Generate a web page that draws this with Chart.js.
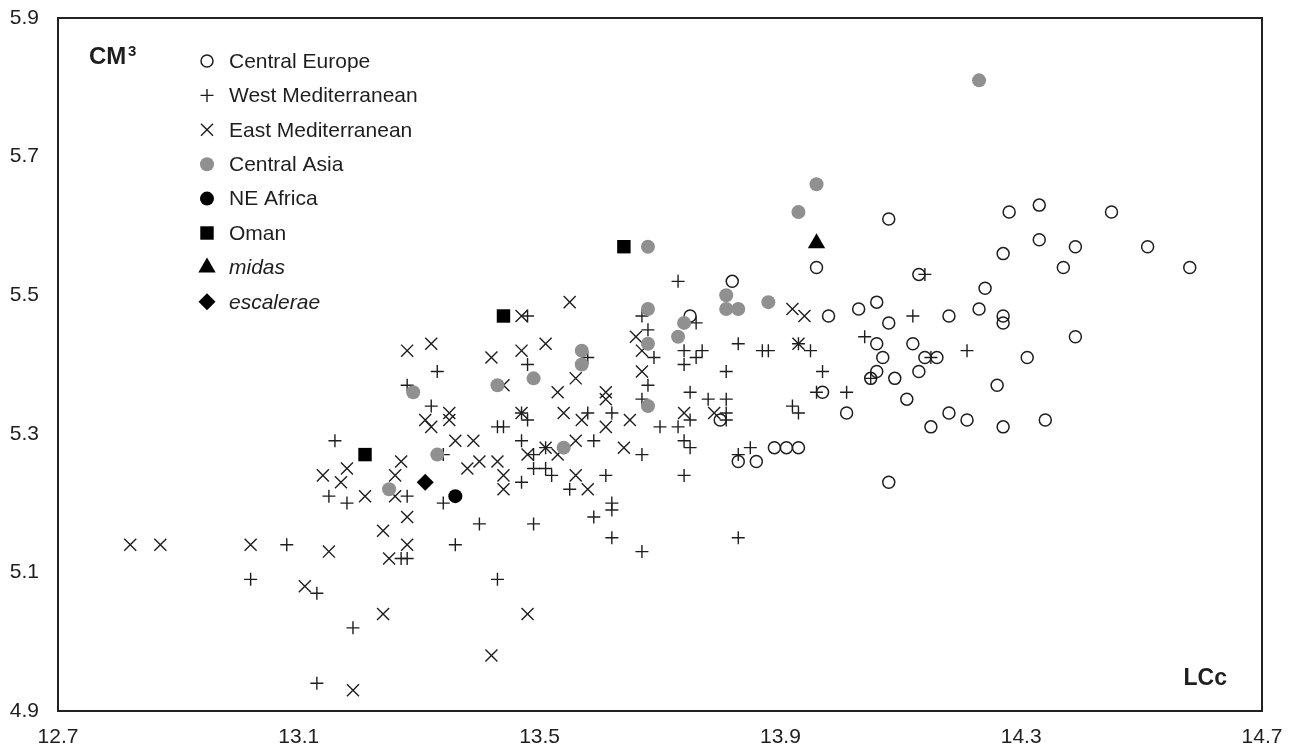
<!DOCTYPE html>
<html>
<head>
<meta charset="utf-8">
<script src="https://cdn.jsdelivr.net/npm/chart.js@4.4.1/dist/chart.umd.min.js"></script>
<style>
  html, body { margin: 0; padding: 0; background: #fff; }
  #wrap { width: 1292px; height: 748px; }
</style>
</head>
<body>
<div id="wrap"><canvas id="chart" width="1292" height="748"></canvas></div>
<script>
// Axis ticks
const xTicks = [12.7, 13.1, 13.5, 13.9, 14.3, 14.7];
const yTicks = [4.9, 5.1, 5.3, 5.5, 5.7, 5.9];

// Series values, [LCc, CM3]
const centralEurope = [
    [13.82, 5.52], [13.75, 5.47], [13.80, 5.32], [13.83, 5.26], [13.86, 5.26],
    [13.89, 5.28], [13.91, 5.28], [13.93, 5.28], [14.08, 5.61], [14.28, 5.62],
    [14.27, 5.56], [13.96, 5.54], [14.24, 5.51], [14.06, 5.49], [14.03, 5.48],
    [13.98, 5.47], [14.08, 5.46], [14.18, 5.47], [14.23, 5.48], [14.27, 5.47],
    [14.27, 5.46], [14.13, 5.53], [14.06, 5.43], [14.12, 5.43], [14.07, 5.41],
    [14.14, 5.41], [14.16, 5.41], [14.06, 5.39], [14.13, 5.39], [14.05, 5.38],
    [14.09, 5.38], [13.97, 5.36], [14.26, 5.37], [14.11, 5.35], [14.01, 5.33],
    [14.18, 5.33], [14.21, 5.32], [14.15, 5.31], [14.27, 5.31], [14.08, 5.23],
    [14.33, 5.63], [14.45, 5.62], [14.33, 5.58], [14.39, 5.57], [14.51, 5.57],
    [14.37, 5.54], [14.58, 5.54], [14.39, 5.44], [14.31, 5.41], [14.34, 5.32]
];
const westMediterranean = [
    [13.28, 5.37], [13.16, 5.29], [13.15, 5.21], [13.28, 5.21], [13.18, 5.20],
    [13.08, 5.14], [13.27, 5.12], [13.28, 5.12], [13.02, 5.09], [13.13, 5.07],
    [13.19, 5.02], [13.13, 4.94], [13.48, 5.47], [13.33, 5.39], [13.48, 5.40],
    [13.32, 5.34], [13.34, 5.20], [13.34, 5.27], [13.43, 5.31], [13.44, 5.31],
    [13.47, 5.33], [13.48, 5.32], [13.47, 5.29], [13.51, 5.28], [13.49, 5.27],
    [13.49, 5.25], [13.51, 5.25], [13.52, 5.24], [13.47, 5.23], [13.40, 5.17],
    [13.49, 5.17], [13.36, 5.14], [13.43, 5.09], [13.58, 5.41], [13.58, 5.33],
    [13.62, 5.33], [13.59, 5.29], [13.67, 5.27], [13.55, 5.22], [13.61, 5.24],
    [13.62, 5.20], [13.62, 5.19], [13.59, 5.18], [13.62, 5.15], [13.67, 5.13],
    [13.74, 5.24], [13.83, 5.15], [13.73, 5.52], [13.67, 5.47], [13.68, 5.45],
    [13.69, 5.41], [13.68, 5.37], [13.67, 5.35], [13.76, 5.46], [13.74, 5.42],
    [13.74, 5.40], [13.76, 5.41], [13.77, 5.42], [13.83, 5.43], [13.87, 5.42],
    [13.88, 5.42], [13.93, 5.43], [13.81, 5.39], [13.75, 5.36], [13.78, 5.35],
    [13.81, 5.35], [13.81, 5.33], [13.81, 5.32], [13.75, 5.32], [13.70, 5.31],
    [13.73, 5.31], [13.74, 5.29], [13.75, 5.28], [13.83, 5.27], [13.85, 5.28],
    [13.92, 5.34], [13.93, 5.33], [13.95, 5.42], [13.97, 5.39], [14.04, 5.44],
    [14.01, 5.36], [13.96, 5.36], [14.05, 5.38], [14.12, 5.47], [14.14, 5.53],
    [14.15, 5.41], [14.21, 5.42]
];
const eastMediterranean = [
    [13.28, 5.42], [13.27, 5.26], [13.18, 5.25], [13.14, 5.24], [13.17, 5.23],
    [13.26, 5.24], [13.21, 5.21], [13.26, 5.21], [13.28, 5.18], [13.24, 5.16],
    [12.82, 5.14], [12.87, 5.14], [13.02, 5.14], [13.15, 5.13], [13.28, 5.14],
    [13.25, 5.12], [13.11, 5.08], [13.24, 5.04], [13.19, 4.93], [13.47, 5.47],
    [13.32, 5.43], [13.42, 5.41], [13.47, 5.42], [13.51, 5.43], [13.44, 5.37],
    [13.31, 5.32], [13.32, 5.31], [13.35, 5.33], [13.35, 5.32], [13.36, 5.29],
    [13.39, 5.29], [13.40, 5.26], [13.38, 5.25], [13.43, 5.26], [13.44, 5.24],
    [13.44, 5.22], [13.47, 5.33], [13.51, 5.28], [13.48, 5.27], [13.48, 5.04],
    [13.42, 4.98], [13.53, 5.36], [13.55, 5.49], [13.56, 5.38], [13.61, 5.36],
    [13.61, 5.35], [13.54, 5.33], [13.57, 5.32], [13.61, 5.31], [13.65, 5.32],
    [13.56, 5.29], [13.64, 5.28], [13.53, 5.27], [13.56, 5.24], [13.58, 5.22],
    [13.66, 5.44], [13.67, 5.42], [13.67, 5.39], [13.74, 5.33], [13.79, 5.33],
    [13.92, 5.48], [13.94, 5.47], [13.93, 5.43]
];
const centralAsia = [
    [14.23, 5.81], [13.96, 5.66], [13.93, 5.62], [13.68, 5.57], [13.81, 5.50],
    [13.81, 5.48], [13.83, 5.48], [13.88, 5.49], [13.68, 5.48], [13.74, 5.46],
    [13.73, 5.44], [13.68, 5.43], [13.68, 5.34], [13.57, 5.42], [13.57, 5.40],
    [13.54, 5.28], [13.49, 5.38], [13.43, 5.37], [13.33, 5.27], [13.29, 5.36],
    [13.25, 5.22]
];
const neAfrica = [[13.36, 5.21]];
const oman = [[13.21, 5.27], [13.44, 5.47], [13.64, 5.57]];
const midas = [[13.96, 5.575]];
const escalerae = [[13.31, 5.23]];

const FONT = '"Liberation Sans", Arial, sans-serif';
const INK = '#1e1e1e';
const GREY = '#909090';

function toPoints(arr) {
    return arr.map(p => ({ x: p[0], y: p[1] }));
}

function series(label, arr, style, radius, fill, stroke, lw, order, italic) {
    return {
        label: label,
        data: toPoints(arr),
        pointStyle: style,
        pointRadius: radius,
        pointBackgroundColor: fill,
        pointBorderColor: stroke,
        pointBorderWidth: lw,
        showLine: false,
        order: order,
        italicLabel: !!italic
    };
}

const datasets = [
    series('Central Europe', centralEurope, 'circle', 6, 'rgba(0,0,0,0)', INK, 1.5, 7),
    series('West Mediterranean', westMediterranean, 'cross', 6.5, INK, INK, 1.4, 6),
    series('East Mediterranean', eastMediterranean, 'crossRot', 8.5, INK, INK, 1.4, 5),
    series('Central Asia', centralAsia, 'circle', 7, GREY, GREY, 0, 4),
    series('NE Africa', neAfrica, 'circle', 7, '#000', '#000', 0, 3),
    series('Oman', oman, 'rect', 9.5, '#000', '#000', 0, 2),
    series('midas', midas, 'triangle', 10, '#000', '#000', 0, 1, true),
    series('escalerae', escalerae, 'rectRot', 8.5, '#000', '#000', 0, 0, true)
];

// Marker drawing for the inset legend (same shapes as Chart.js points)
function drawMarker(ctx, ds, x, y) {
    const r = ds.pointRadius;
    const s = ds.pointStyle;
    const d = r * Math.SQRT1_2;
    ctx.beginPath();
    if (s === 'circle') {
        ctx.arc(x, y, r, 0, Math.PI * 2);
    } else if (s === 'cross') {
        ctx.moveTo(x - r, y); ctx.lineTo(x + r, y);
        ctx.moveTo(x, y - r); ctx.lineTo(x, y + r);
    } else if (s === 'crossRot') {
        ctx.moveTo(x - d, y - d); ctx.lineTo(x + d, y + d);
        ctx.moveTo(x + d, y - d); ctx.lineTo(x - d, y + d);
    } else if (s === 'rect') {
        ctx.rect(x - d, y - d, 2 * d, 2 * d);
    } else if (s === 'triangle') {
        ctx.moveTo(x, y - r);
        ctx.lineTo(x + r * 0.866, y + r * 0.5);
        ctx.lineTo(x - r * 0.866, y + r * 0.5);
        ctx.closePath();
    } else if (s === 'rectRot') {
        ctx.moveTo(x - r, y); ctx.lineTo(x, y - r);
        ctx.lineTo(x + r, y); ctx.lineTo(x, y + r);
        ctx.closePath();
    }
    if (s !== 'cross' && s !== 'crossRot') {
        ctx.fillStyle = ds.pointBackgroundColor;
        ctx.fill();
    }
    if (ds.pointBorderWidth > 0) {
        ctx.lineWidth = ds.pointBorderWidth;
        ctx.strokeStyle = ds.pointBorderColor;
        ctx.stroke();
    }
}

const framePlugin = {
    id: 'frameAndLegend',
    afterDraw(chart) {
        const ctx = chart.ctx;
        const a = chart.chartArea;
        ctx.save();
        // plot frame
        ctx.lineWidth = 2;
        ctx.strokeStyle = '#222';
        ctx.strokeRect(a.left, a.top, a.right - a.left, a.bottom - a.top);

        // inset legend
        chart.data.datasets.forEach((ds, i) => {
            const y = 61 + i * 34.4;
            drawMarker(ctx, ds, 207, y);
            ctx.font = (ds.italicLabel ? 'italic ' : '') + '21px ' + FONT;
            ctx.fillStyle = INK;
            ctx.textBaseline = 'middle';
            ctx.textAlign = 'left';
            ctx.fillText(ds.label, 229, y + 1);
        });

        // axis names inside the frame
        ctx.fillStyle = INK;
        ctx.textBaseline = 'alphabetic';
        ctx.textAlign = 'left';
        ctx.font = 'bold 24px ' + FONT;
        ctx.fillText('CM', 89, 64);
        ctx.font = 'bold 15px ' + FONT;
        ctx.fillText('3', 128, 56);
        ctx.font = 'bold 23px ' + FONT;
        ctx.textAlign = 'right';
        ctx.fillText('LCc', 1227, 685);
        ctx.restore();
    }
};

new Chart(document.getElementById('chart'), {
    type: 'scatter',
    data: { datasets: datasets },
    options: {
        responsive: false,
        animation: false,
        events: [],
        layout: { padding: { top: 18, right: 30, left: 0, bottom: 0 } },
        plugins: {
            legend: { display: false },
            tooltip: { enabled: false }
        },
        scales: {
            x: {
                type: 'linear',
                min: 12.7,
                max: 14.7,
                grid: { display: false, drawTicks: false },
                border: { display: false },
                afterBuildTicks: s => { s.ticks = xTicks.map(v => ({ value: v })); },
                afterFit: s => {
                    s.height = 37;
                    s.paddingLeft = 0;
                    s.paddingRight = 0;
                },
                ticks: {
                    font: { family: FONT, size: 21 },
                    color: INK,
                    padding: 14,
                    maxRotation: 0,
                    autoSkip: false,
                    callback: v => Number(v).toFixed(1)
                }
            },
            y: {
                type: 'linear',
                min: 4.9,
                max: 5.9,
                grid: { display: false, drawTicks: false },
                border: { display: false },
                afterBuildTicks: s => { s.ticks = yTicks.map(v => ({ value: v })); },
                afterFit: s => {
                    s.width = 58;
                    s.paddingTop = 0;
                    s.paddingBottom = 0;
                },
                ticks: {
                    font: { family: FONT, size: 21 },
                    color: INK,
                    padding: 19,
                    autoSkip: false,
                    callback: v => Number(v).toFixed(1)
                }
            }
        }
    },
    plugins: [framePlugin]
});
</script>
</body>
</html>
